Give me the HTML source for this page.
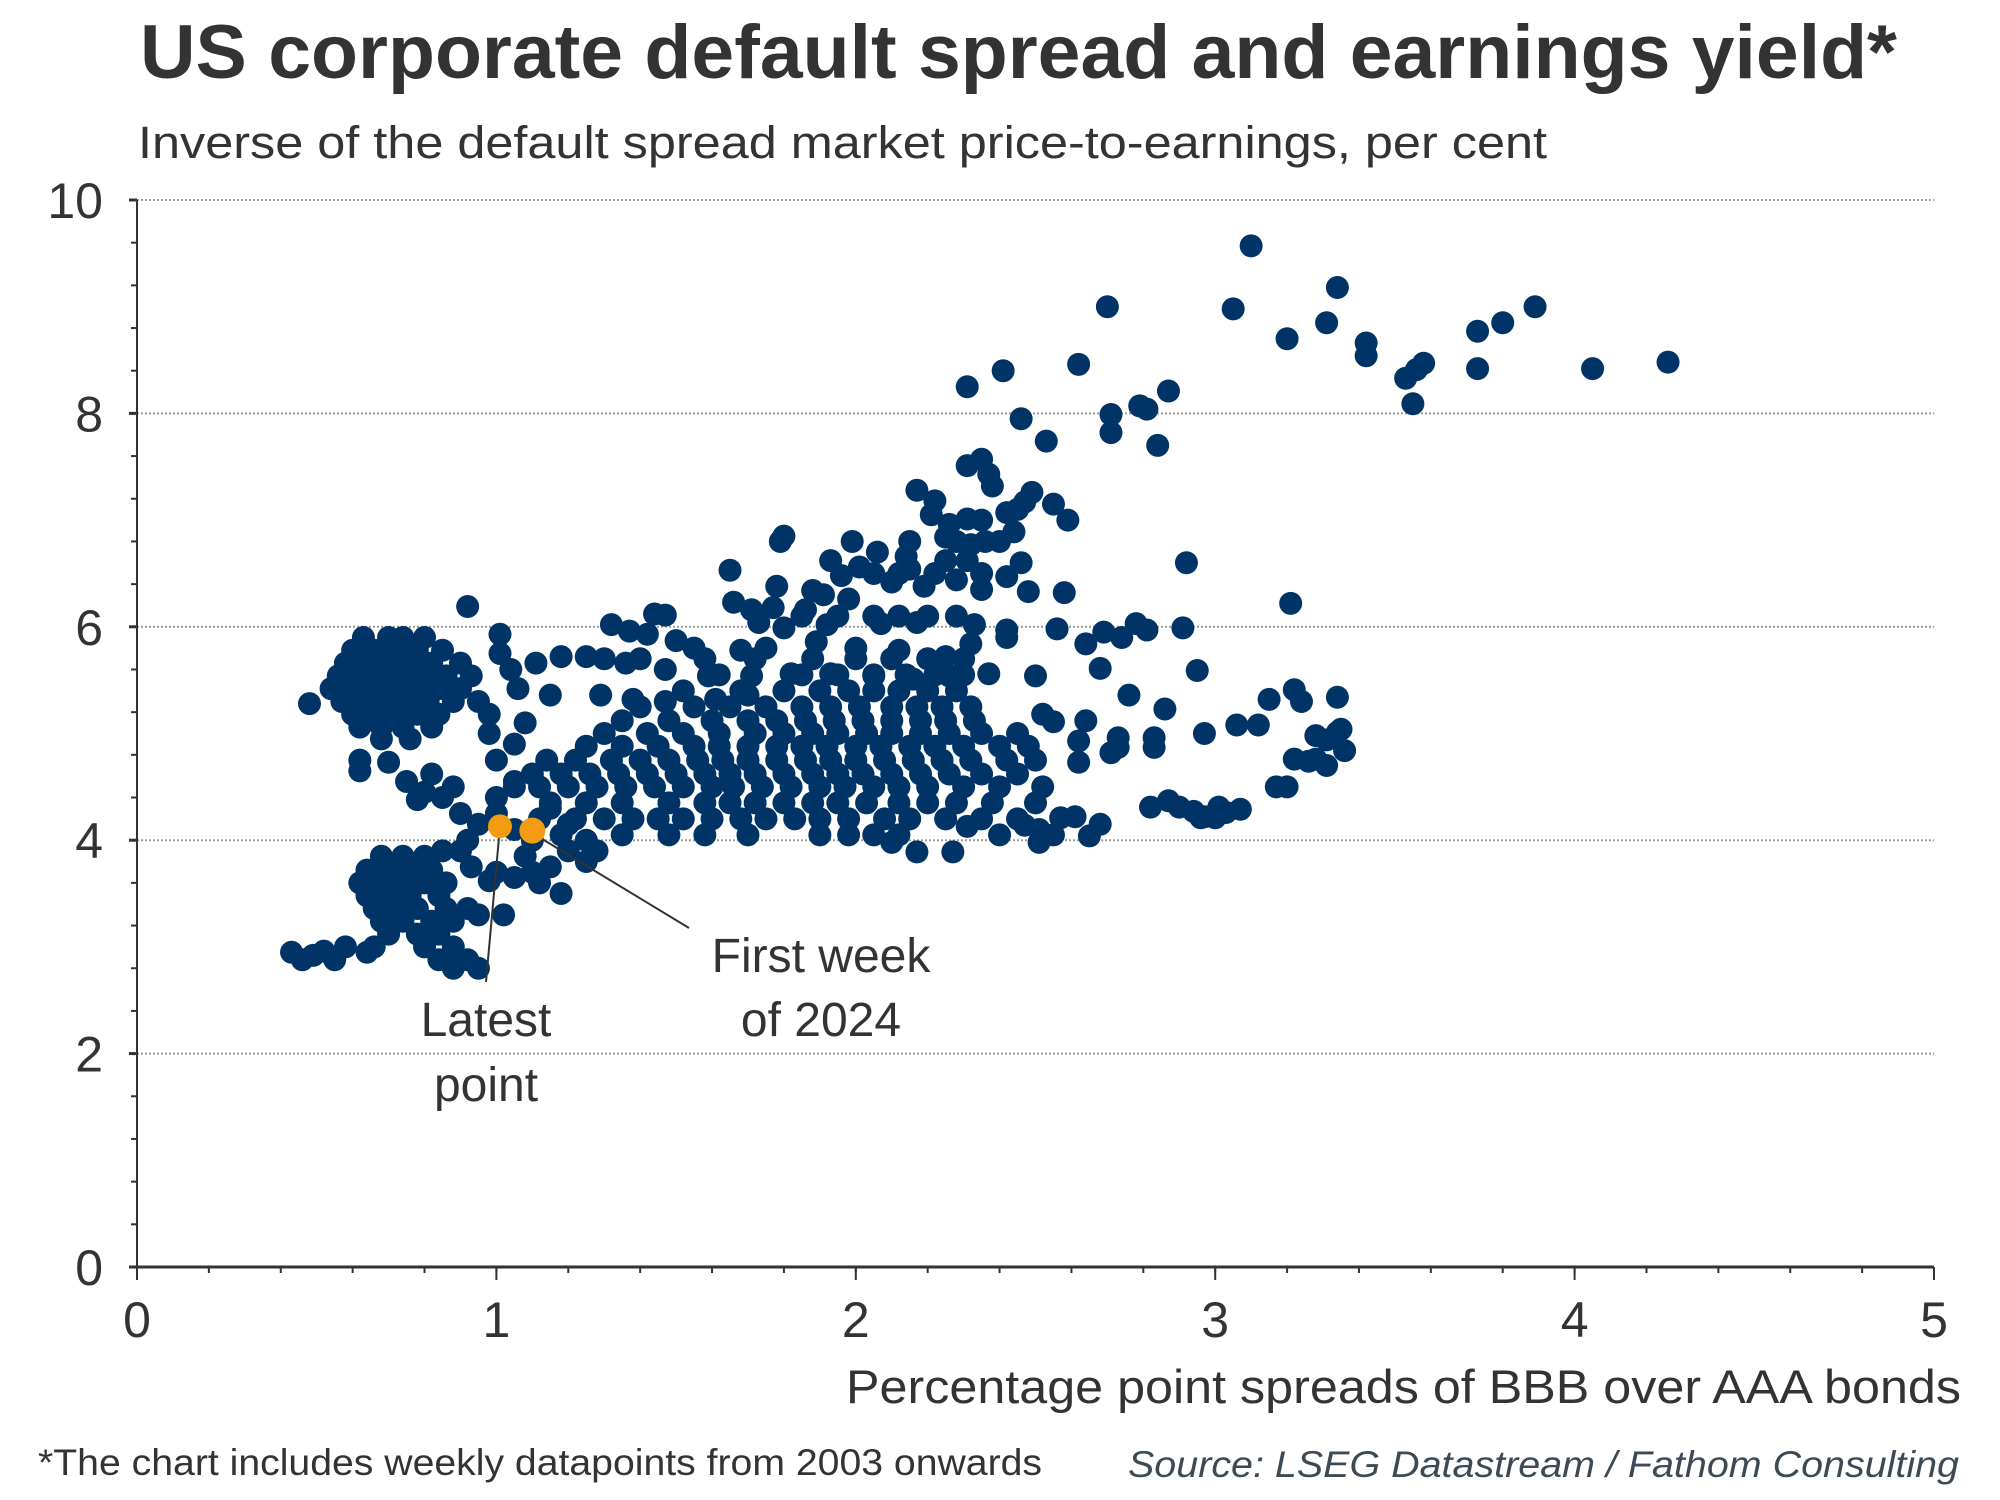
<!DOCTYPE html>
<html><head><meta charset="utf-8"><style>
html,body{margin:0;padding:0;background:#fff;}
svg{display:block;}
text{font-family:"Liberation Sans",Arial,sans-serif;fill:#333;}
</style></head><body>
<svg id="chart" width="2000" height="1500" viewBox="0 0 2000 1500" xmlns="http://www.w3.org/2000/svg">
<text x="140" y="78" font-size="76" font-weight="bold" textLength="1757" lengthAdjust="spacingAndGlyphs">US corporate default spread and earnings yield*</text>
<text x="138" y="158" font-size="45" textLength="1409" lengthAdjust="spacingAndGlyphs">Inverse of the default spread market price-to-earnings, per cent</text>
<g id="grid"></g>
<g id="axes"></g>
<g id="dots"></g>
<g id="annot"></g>
<text x="846" y="1403" font-size="47" textLength="1115" lengthAdjust="spacingAndGlyphs">Percentage point spreads of BBB over AAA bonds</text>
<text x="38" y="1475" font-size="37" textLength="1004" lengthAdjust="spacingAndGlyphs">*The chart includes weekly datapoints from 2003 onwards</text>
<text x="1128" y="1477" font-size="37" font-style="italic" style="fill:#3d4a56" textLength="831" lengthAdjust="spacingAndGlyphs">Source: LSEG Datastream / Fathom Consulting</text>
</svg>
<script>
const xTicks=[0,1,2,3,4,5];
const yTicks=[0,2,4,6,8,10];
const latestPoint=[1.01,4.13];
const firstWeek2024=[1.10,4.09];
const outlierPoints=[[3.10,9.57],[3.34,9.18],[2.70,9.0],[3.05,8.98],[3.89,9.0],[3.31,8.85],[3.80,8.85],[3.20,8.70],[3.73,8.77],[3.42,8.66],[3.42,8.54],[3.58,8.47],[3.56,8.41],[3.53,8.33],[3.73,8.42],[4.05,8.42],[4.26,8.48],[3.55,8.09],[2.31,8.25],[2.41,8.40],[2.62,8.46],[2.87,8.21],[2.71,7.99],[2.79,8.07],[2.81,8.04],[2.71,7.82],[2.84,7.70],[2.53,7.74],[2.46,7.95]];
const upperPoints=[[2.31,7.51],[2.35,7.57],[2.37,7.43],[2.38,7.32],[2.17,7.28],[2.22,7.18],[2.49,7.26],[2.47,7.17],[2.55,7.15],[2.59,7.0],[2.42,7.07],[2.45,7.1],[2.21,7.05],[2.31,7.01],[2.26,6.96],[2.35,7.0],[1.80,6.85],[1.79,6.8],[1.99,6.8],[2.06,6.7],[2.14,6.66],[2.25,6.84],[2.32,6.77],[2.40,6.8],[2.44,6.89],[2.92,6.6],[1.65,6.53],[1.93,6.62],[1.96,6.48],[2.01,6.56],[2.15,6.54],[2.25,6.62],[2.31,6.62],[2.46,6.6],[2.42,6.47],[1.78,6.38],[1.88,6.34],[1.91,6.30],[1.98,6.26],[2.10,6.42],[2.19,6.38],[2.28,6.44],[2.35,6.35],[2.48,6.33],[2.58,6.32],[3.21,6.22],[0.92,6.19],[1.66,6.23],[1.71,6.16],[1.77,6.18],[1.86,6.16],[1.44,6.12],[1.47,6.11],[1.73,6.04],[1.80,5.99],[1.92,6.02],[2.07,6.03],[2.17,6.04],[2.33,6.02],[2.42,5.97],[2.56,5.98],[2.69,5.95],[2.78,6.03],[2.81,5.97],[2.91,5.99],[1.32,6.02],[1.37,5.96],[1.42,5.93],[1.50,5.87],[1.55,5.80],[1.68,5.78],[1.75,5.80],[1.89,5.86],[2.0,5.8],[2.12,5.78],[2.25,5.72],[2.32,5.84],[2.42,5.9],[2.64,5.84],[2.74,5.9],[2.95,5.59],[2.68,5.61],[1.01,5.93],[1.01,5.75],[1.04,5.6],[1.11,5.66],[1.18,5.72],[1.25,5.72],[1.36,5.66],[1.47,5.60],[1.59,5.54],[1.71,5.54],[1.82,5.56],[1.93,5.56],[2.05,5.54],[2.16,5.51],[2.26,5.54],[2.37,5.56],[2.50,5.54],[1.06,5.42],[1.15,5.36],[1.29,5.36],[1.38,5.32],[1.47,5.3],[1.61,5.32],[1.70,5.36],[2.76,5.36],[3.22,5.41],[3.15,5.32],[3.24,5.3],[3.34,5.34],[2.86,5.23],[2.97,5.0],[3.06,5.08],[3.12,5.08],[3.28,4.98],[3.31,4.94],[3.34,5.01],[3.35,5.04],[3.36,4.84],[3.28,4.76],[3.22,4.76],[3.26,4.74],[3.31,4.7],[3.17,4.5],[3.20,4.5],[2.82,4.31],[2.87,4.37],[2.90,4.31],[2.94,4.27],[2.97,4.22],[3.01,4.31],[3.03,4.26],[3.07,4.29],[2.96,4.21],[3.0,4.21],[2.73,4.96],[2.73,4.87],[2.71,4.82],[2.62,4.93],[2.62,4.73],[2.83,4.96],[2.83,4.87],[2.64,5.12],[2.55,5.11],[2.52,5.18],[2.57,4.21],[2.61,4.22],[2.65,4.04],[2.68,4.15],[2.47,4.14],[2.51,4.10],[2.51,3.98],[2.27,3.89],[2.31,4.13],[2.17,3.89],[2.10,3.98],
[1.30,5.7],[1.40,5.7],[1.58,5.7],[1.72,5.7],[1.88,5.7],[2.0,5.7],[2.1,5.7],[2.2,5.7],[2.3,5.7],[1.85,6.1],[1.95,6.1],[2.05,6.1],[2.12,6.1],[2.2,6.1],[2.28,6.1],[2.05,6.5],[2.12,6.5],[2.22,6.5],[2.35,6.5],[2.15,6.8],[2.28,6.8],[2.36,6.8]];
const mainBlob=[[1.22,4.2],[1.30,4.2],[1.38,4.2],[1.45,4.2],[1.52,4.2],[1.60,4.2],[1.68,4.2],[1.75,4.2],[1.83,4.2],[1.90,4.2],[1.98,4.2],[2.08,4.2],[2.15,4.2],[2.25,4.2],[2.35,4.2],[2.45,4.2],
[1.15,4.35],[1.25,4.35],[1.35,4.35],[1.48,4.35],[1.58,4.35],[1.65,4.35],[1.72,4.35],[1.80,4.35],[1.88,4.35],[1.95,4.35],[2.03,4.35],[2.12,4.35],[2.20,4.35],[2.28,4.35],[2.38,4.35],[2.50,4.35],
[1.05,4.5],[1.12,4.5],[1.20,4.5],[1.28,4.5],[1.36,4.5],[1.44,4.5],[1.52,4.5],[1.60,4.5],[1.66,4.5],[1.74,4.5],[1.82,4.5],[1.90,4.5],[1.97,4.5],[2.05,4.5],[2.12,4.5],[2.20,4.5],[2.30,4.5],[2.40,4.5],[2.52,4.5],
[1.10,4.62],[1.18,4.62],[1.26,4.62],[1.34,4.62],[1.42,4.62],[1.50,4.62],[1.58,4.62],[1.65,4.62],[1.72,4.62],[1.80,4.62],[1.88,4.62],[1.95,4.62],[2.02,4.62],[2.10,4.62],[2.18,4.62],[2.26,4.62],[2.35,4.62],[2.45,4.62],
[1.14,4.75],[1.22,4.75],[1.32,4.75],[1.40,4.75],[1.48,4.75],[1.56,4.75],[1.63,4.75],[1.70,4.75],[1.78,4.75],[1.86,4.75],[1.93,4.75],[2.00,4.75],[2.08,4.75],[2.16,4.75],[2.24,4.75],[2.32,4.75],[2.42,4.75],[2.50,4.75],
[1.25,4.88],[1.35,4.88],[1.45,4.88],[1.55,4.88],[1.62,4.88],[1.70,4.88],[1.78,4.88],[1.85,4.88],[1.92,4.88],[2.00,4.88],[2.07,4.88],[2.15,4.88],[2.22,4.88],[2.30,4.88],[2.40,4.88],[2.48,4.88],
[1.30,5.0],[1.42,5.0],[1.52,5.0],[1.62,5.0],[1.72,5.0],[1.80,5.0],[1.88,5.0],[1.95,5.0],[2.03,5.0],[2.10,5.0],[2.18,5.0],[2.26,5.0],[2.35,5.0],[2.45,5.0],
[1.35,5.12],[1.48,5.12],[1.60,5.12],[1.70,5.12],[1.78,5.12],[1.86,5.12],[1.94,5.12],[2.02,5.12],[2.10,5.12],[2.18,5.12],[2.25,5.12],[2.33,5.12],
[1.40,5.25],[1.55,5.25],[1.65,5.25],[1.75,5.25],[1.85,5.25],[1.93,5.25],[2.01,5.25],[2.10,5.25],[2.17,5.25],[2.24,5.25],[2.32,5.25],
[1.52,5.4],[1.68,5.4],[1.80,5.4],[1.90,5.4],[1.98,5.4],[2.05,5.4],[2.12,5.4],[2.20,5.4],[2.28,5.4],
[1.62,5.55],[1.85,5.55],[1.95,5.55],[2.05,5.55],[2.14,5.55],[2.22,5.55],[2.30,5.55],
[1.35,4.05],[1.48,4.05],[1.58,4.05],[1.70,4.05],[1.90,4.05],[1.98,4.05],[2.05,4.05],[2.12,4.05],[2.40,4.05],[2.55,4.05],
[1.0,4.4],[1.05,4.55],[1.15,4.3],[1.2,4.15],[1.25,4.0],[1.28,3.9],[1.12,4.2]];
const leftCluster=[[0.63,5.9],[0.70,5.9],[0.74,5.9],[0.80,5.9],[0.60,5.78],[0.66,5.78],[0.72,5.78],[0.78,5.78],[0.85,5.78],[0.58,5.66],[0.64,5.66],[0.70,5.66],[0.76,5.66],[0.82,5.66],[0.90,5.66],[0.56,5.54],[0.62,5.54],[0.68,5.54],[0.74,5.54],[0.80,5.54],[0.86,5.54],[0.93,5.54],[0.54,5.42],[0.60,5.42],[0.66,5.42],[0.72,5.42],[0.78,5.42],[0.84,5.42],[0.90,5.42],[0.57,5.30],[0.63,5.30],[0.69,5.30],[0.75,5.30],[0.81,5.30],[0.88,5.30],[0.95,5.30],[0.60,5.18],[0.66,5.18],[0.72,5.18],[0.78,5.18],[0.84,5.18],[0.98,5.18],[0.62,5.06],[0.68,5.06],[0.74,5.06],[0.82,5.06],[0.68,4.95],[0.76,4.95],
[0.48,5.28],[0.62,4.75],[0.62,4.65],[0.70,4.73],[0.75,4.55],[0.80,4.45],[0.78,4.38],[0.85,4.4],[0.88,4.5],[0.82,4.62],[0.92,4.0],[0.95,4.15],[1.0,4.25],[0.90,4.25],[0.98,5.0],[1.0,4.75],[1.05,4.9],[1.08,5.1]];
const lowerCluster=[[0.68,3.85],[0.74,3.85],[0.80,3.85],[0.64,3.72],[0.70,3.72],[0.76,3.72],[0.82,3.72],[0.62,3.6],[0.68,3.6],[0.74,3.6],[0.80,3.6],[0.86,3.6],[0.64,3.48],[0.70,3.48],[0.76,3.48],[0.84,3.48],[0.66,3.36],[0.72,3.36],[0.78,3.36],[0.86,3.36],[0.92,3.36],[0.68,3.24],[0.74,3.24],[0.82,3.24],[0.88,3.24],[0.70,3.12],[0.78,3.12],[0.84,3.12],[0.66,3.0],[0.80,3.0],[0.88,3.0],[0.84,2.88],[0.92,2.88],[0.88,2.8],[0.95,2.8],
[0.43,2.95],[0.46,2.88],[0.49,2.92],[0.52,2.96],[0.55,2.88],[0.58,3.0],[0.64,2.95],
[1.0,3.7],[1.05,3.65],[1.1,3.7],[1.12,3.6],[1.15,3.75],[1.18,3.5],[1.08,3.85],[1.02,3.3],[0.98,3.62],[0.93,3.75],[0.9,3.9],[0.95,3.3],[0.85,3.9],[1.2,3.9],[1.18,4.05],[1.25,3.8],[1.1,4.0],[1.05,4.1]];

const NS='http://www.w3.org/2000/svg';
const X0=137,X1=1934,Y0=1267,Y1=200;
function sx(v){return X0+(v-0)/(5-0)*(X1-X0);}
function sy(v){return Y0-(v-0)/(10-0)*(Y0-Y1);}
function mk(tag,attrs,parent){const e=document.createElementNS(NS,tag);for(const k in attrs)e.setAttribute(k,attrs[k]);parent.appendChild(e);return e;}
const grid=document.getElementById('grid'),axes=document.getElementById('axes'),dots=document.getElementById('dots'),annot=document.getElementById('annot');
yTicks.forEach(t=>{
  if(t>0){const g=mk('line',{x1:X0,x2:X1,y1:sy(t),y2:sy(t),stroke:'#9a9a9a','stroke-width':2,'stroke-dasharray':'2,2'},grid);
  
  }
  const tx=mk('text',{x:103,y:sy(t)+18,'text-anchor':'end','font-size':50},axes);tx.textContent=t;
  
  
});
for(let v=0;v<=10.001;v+=0.4){mk('line',{x1:X0-6,x2:X0,y1:sy(v),y2:sy(v),stroke:'#333','stroke-width':2},axes);}
yTicks.forEach(t=>{mk('line',{x1:X0-8,x2:X0,y1:sy(t),y2:sy(t),stroke:'#333','stroke-width':3},axes);});
const ya=mk('line',{x1:X0,x2:X0,y1:Y1,y2:Y0,stroke:'#333','stroke-width':2},axes);


for(let v=0;v<=5.001;v+=0.2){mk('line',{x1:sx(v),x2:sx(v),y1:Y0,y2:Y0+6,stroke:'#333','stroke-width':2},axes);}
xTicks.forEach(t=>{
  mk('line',{x1:sx(t),x2:sx(t),y1:Y0,y2:Y0+13,stroke:'#333','stroke-width':2},axes);
  const tx=mk('text',{x:sx(t),y:1337,'text-anchor':'middle','font-size':50},axes);tx.textContent=t;
  
  
});
const xa=mk('line',{x1:X0,x2:X1,y1:Y0,y2:Y0,stroke:'#333','stroke-width':3},axes);


[outlierPoints,upperPoints,mainBlob,leftCluster,lowerCluster].forEach(arr=>arr.forEach(p=>{
  const c=mk('circle',{cx:sx(p[0]),cy:sy(p[1]),r:11.5,fill:'#003466'},dots);
  
  
}));
const l1=mk('line',{x1:sx(latestPoint[0]),y1:sy(latestPoint[1]),x2:486,y2:982,stroke:'#333','stroke-width':2},annot);


const l2=mk('line',{x1:sx(firstWeek2024[0])-4,y1:sy(firstWeek2024[1]),x2:689,y2:928,stroke:'#333','stroke-width':2},annot);


const o1=mk('circle',{cx:sx(latestPoint[0]),cy:sy(latestPoint[1]),r:12,fill:'#f39c12'},annot);


const o2=mk('circle',{cx:sx(firstWeek2024[0]),cy:sy(firstWeek2024[1]),r:13,fill:'#f39c12'},annot);


[['Latest',486,1036],['point',486,1101],['First week',821,972],['of 2024',821,1036]].forEach(a=>{
  const t=mk('text',{x:a[1],y:a[2],'text-anchor':'middle','font-size':48},annot);t.textContent=a[0];
  
  
});
</script>
</body></html>
